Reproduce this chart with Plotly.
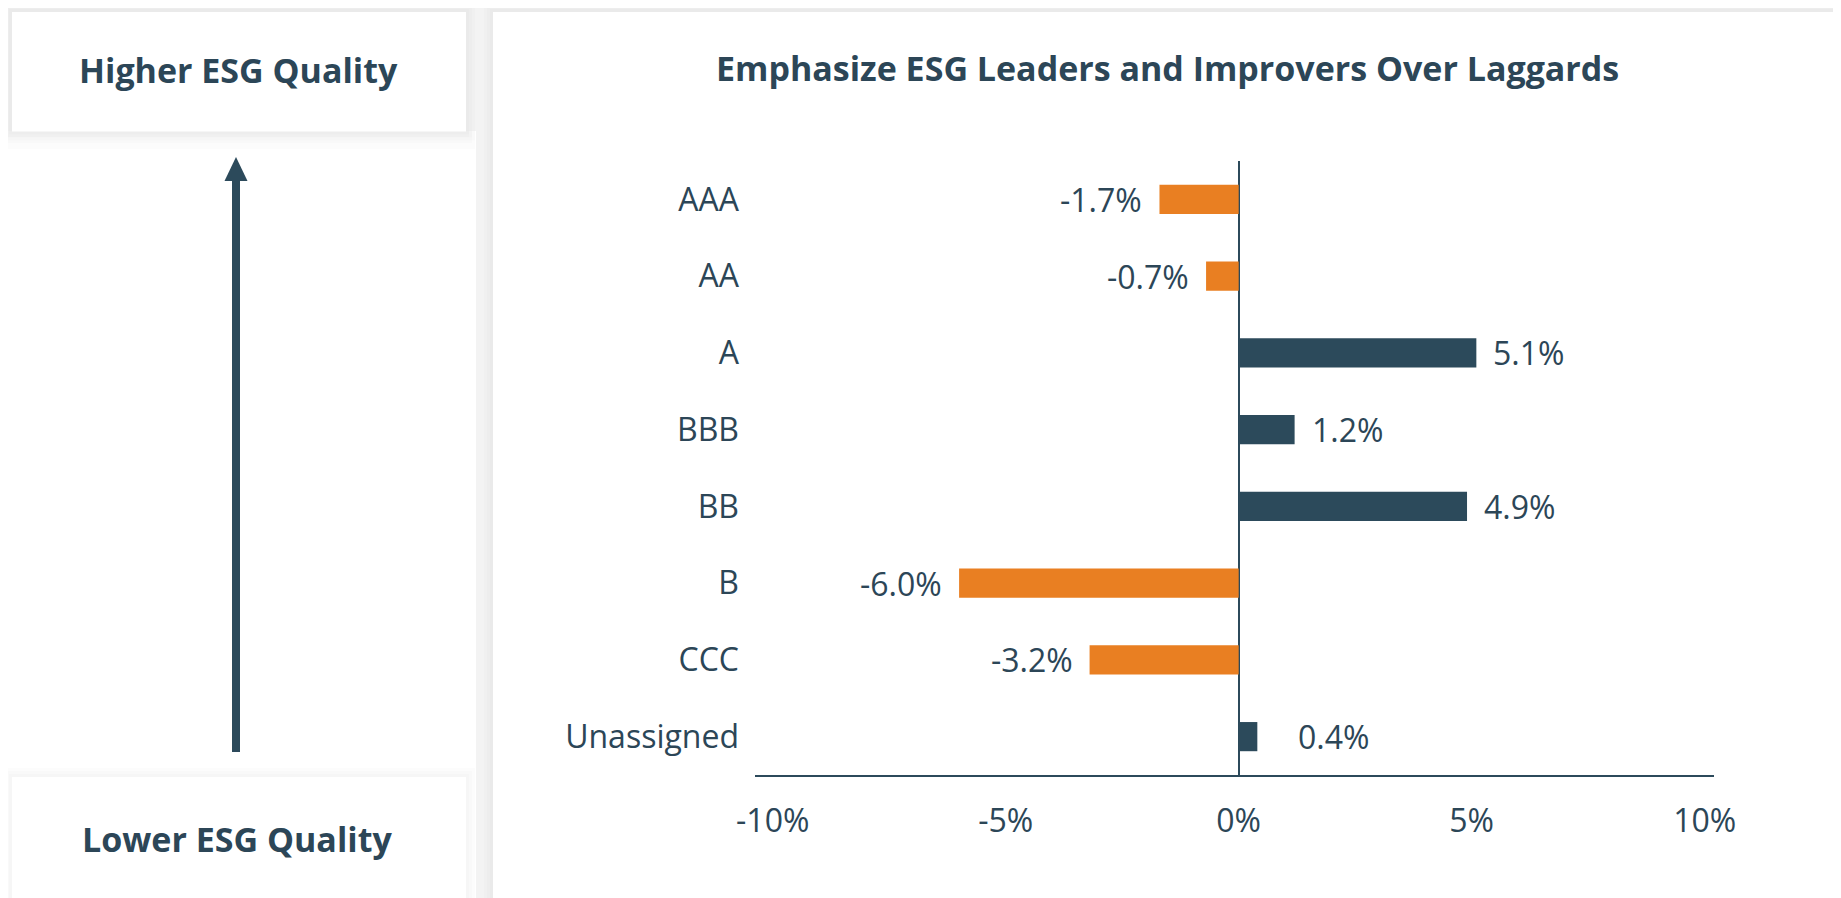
import plotly.graph_objects as go

# ---- data ----
categories = ["AAA", "AA", "A", "BBB", "BB", "B", "CCC", "Unassigned"]
values = [-1.7, -0.7, 5.1, 1.2, 4.9, -6.0, -3.2, 0.4]
tick_vals = [-10, -5, 0, 5, 10]
tick_text = ["-10%", "-5%", "0%", "5%", "10%"]
title_text = "Emphasize ESG Leaders and Improvers Over Laggards"
top_label = "Higher ESG Quality"
bottom_label = "Lower ESG Quality"

# ---- style ----
ORANGE = "#E97F22"
NAVY = "#2C4A5B"
TEXT = "#2C4657"
OFF = 8  # page body margin
SW, SH = 1841, 898  # screen size
FW, FH = SW - OFF, SH - OFF
# plot area in screen pixels
L, R, T, B = 755, 1714, 161, 775
PW, PH = R - L, B - T


def px(x):
    return (x - L) / PW


def py(y):
    return (B - y) / PH


colors = [ORANGE if v < 0 else NAVY for v in values]

fig = go.Figure()
fig.add_trace(go.Bar(
    y=categories, x=values, orientation="h",
    marker=dict(color=colors, line=dict(width=0)),
    width=0.38, hoverinfo="x+y",
))

shapes = []


def rect(x0, y0, x1, y1, color, layer="below"):
    shapes.append(dict(type="rect", xref="paper", yref="paper",
                       x0=px(x0), x1=px(x1), y0=py(y1), y1=py(y0),
                       fillcolor=color, line=dict(width=0), layer=layer))


# left column background (white) with soft shadow beneath the top box
rect(-20, 131, 476, SH + 20, "#ffffff")
for d in (18, 12, 6):
    rect(0, 131, 466 + d * 0.5, 131 + d, "rgba(0,0,0,0.012)")
for d in (9, 6, 3):
    rect(12 - d, 12 - d, 466 + d, 131.5 + d, "rgba(0,0,0,0.01)")
rect(12, 12, 466, 131.5, "white")
# bottom box
for d in (9, 6, 3):
    rect(12 - d, 777 - d, 466 + d, SH + 20, "rgba(0,0,0,0.012)")
rect(12, 777, 466, SH + 20, "white")
# right panel
for d in (9, 6, 3):
    rect(493 - d, 12 - d, SW + 20, SH + 20, "rgba(0,0,0,0.01)")
rect(493, 12, SW + 20, SH + 20, "white")

# arrow
shapes.append(dict(type="line", xref="paper", yref="paper",
                   x0=px(236), x1=px(236), y0=py(752), y1=py(175),
                   line=dict(color=NAVY, width=8), layer="above"))
shapes.append(dict(type="path", xref="paper", yref="paper",
                   path=f"M {px(224.5)} {py(181)} L {px(236)} {py(157)} L {px(247.5)} {py(181)} Z",
                   fillcolor=NAVY, line=dict(width=0), layer="above"))

annotations = []
LABEL_FONT = dict(family="Open Sans", size=32, color=TEXT)
# value labels
for c, v in zip(categories, values):
    if v < 0:
        annotations.append(dict(x=v, y=c, xref="x", yref="y", text=f"{v:.1f}%",
                                showarrow=False, xanchor="right", xshift=-15,
                                font=LABEL_FONT))
    else:
        annotations.append(dict(x=max(v, 0.9), y=c, xref="x", yref="y", text=f"{v:.1f}%",
                                showarrow=False, xanchor="left", xshift=15,
                                font=LABEL_FONT))

HEAD_FONT = dict(family="Open Sans", size=34, color=TEXT)
annotations.append(dict(x=px(1167), y=py(68), xref="paper", yref="paper", text=f"<b>{title_text}</b>",
                        showarrow=False, xanchor="center", yanchor="middle", font=HEAD_FONT))
annotations.append(dict(x=px(238), y=py(70), xref="paper", yref="paper", text=f"<b>{top_label}</b>",
                        showarrow=False, xanchor="center", yanchor="middle", font=HEAD_FONT))
annotations.append(dict(x=px(237), y=py(839), xref="paper", yref="paper", text=f"<b>{bottom_label}</b>",
                        showarrow=False, xanchor="center", yanchor="middle", font=HEAD_FONT))

fig.update_layout(
    width=FW, height=FH,
    margin=dict(l=L - OFF, r=SW - R, t=T - OFF, b=SH - B, pad=0),
    paper_bgcolor="#f3f3f3", plot_bgcolor="rgba(0,0,0,0)",
    showlegend=False,
    shapes=shapes, annotations=annotations,
    xaxis=dict(range=[-10.38, 10.2], tickvals=tick_vals, ticktext=tick_text,
               showgrid=False, zeroline=True, zerolinecolor=NAVY, zerolinewidth=2,
               showline=True, linecolor=NAVY, linewidth=2, ticks="",
               ticklabelstandoff=17,
               tickfont=LABEL_FONT, fixedrange=True),
    yaxis=dict(categoryorder="array", categoryarray=categories, range=[7.5, -0.5],
               showgrid=False, zeroline=False, showline=False, ticks="",
               ticklabelstandoff=15,
               tickfont=LABEL_FONT, fixedrange=True),
    font=dict(family="Open Sans", color=TEXT),
)

fig.write_html("out.html")
